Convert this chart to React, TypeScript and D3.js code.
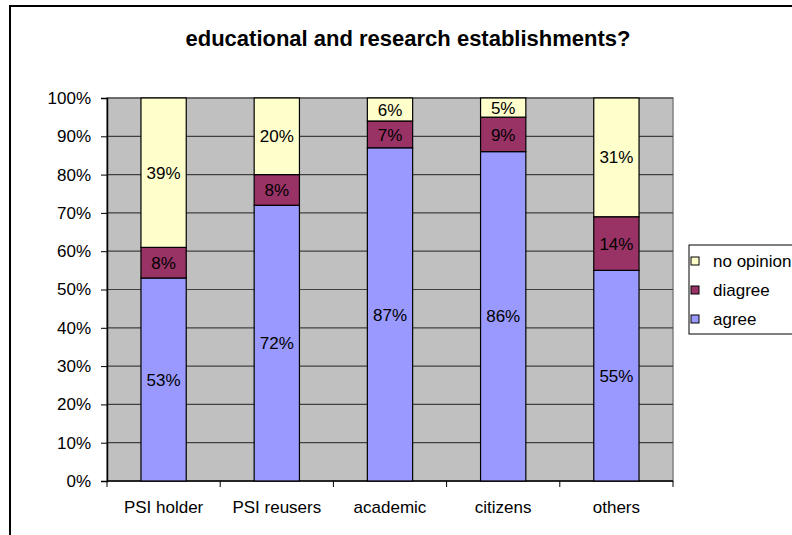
import { useEffect, useRef } from 'react';
import * as d3 from 'd3';

const categories = ['PSI holder', 'PSI reusers', 'academic', 'citizens', 'others'];
const agree = [53, 72, 87, 86, 55];
const disagree = [8, 8, 7, 9, 14];
const noOpinion = [39, 20, 6, 5, 31];
const seriesNames = ['agree', 'diagree', 'no opinion'];
const seriesColors = ['#9999FF', '#993366', '#FFFFCC'];
const yTicks = [0, 10, 20, 30, 40, 50, 60, 70, 80, 90, 100];

const FONT = 'Arial, "Liberation Sans", sans-serif';

export default function App() {
  const ref = useRef<SVGSVGElement>(null);

  useEffect(() => {
    if (!ref.current) return;
    const svg = d3.select(ref.current);
    svg.selectAll('*').remove();

    const W = 792, H = 535;
    const m = { left: 107, right: 673, top: 98, bottom: 481 };

    svg.append('rect').attr('width', W).attr('height', H).attr('fill', '#fff');
    // chart frame
    svg.append('rect').attr('x', 10).attr('y', 6).attr('width', 800).attr('height', 600)
      .attr('fill', 'none').attr('stroke', '#000').attr('stroke-width', 2);

    svg.append('text').attr('x', 408).attr('y', 46).attr('text-anchor', 'middle')
      .attr('font-family', FONT).attr('font-size', '22px').attr('font-weight', 'bold')
      .text('educational and research establishments?');

    const x = d3.scaleBand<string>().domain(categories).range([m.left, m.right])
      .paddingInner(0.6).paddingOuter(0.3);
    const y = d3.scaleLinear().domain([0, 100]).range([m.bottom, m.top]);

    // plot area
    svg.append('rect').attr('x', m.left).attr('y', m.top)
      .attr('width', m.right - m.left).attr('height', m.bottom - m.top)
      .attr('fill', '#C0C0C0').attr('stroke', '#808080').attr('stroke-width', 1.5);

    svg.append('g').selectAll('line').data(yTicks.slice(1)).enter().append('line')
      .attr('x1', m.left).attr('x2', m.right)
      .attr('y1', d => y(d)).attr('y2', d => y(d))
      .attr('stroke', '#404040').attr('stroke-width', 1.2);

    // y axis
    const yAxis = svg.append('g').attr('transform', `translate(${m.left},0)`)
      .call(d3.axisLeft(y).tickValues(yTicks).tickSize(6).tickPadding(10).tickFormat(d => `${d}%`));
    yAxis.select('.domain').attr('stroke', '#000').attr('stroke-width', 1.5);
    yAxis.selectAll('.tick line').attr('stroke', '#000');
    yAxis.selectAll('text').attr('font-family', FONT).attr('font-size', '17px').attr('fill', '#000');

    // x axis
    svg.append('line').attr('x1', m.left).attr('x2', m.right).attr('y1', m.bottom).attr('y2', m.bottom)
      .attr('stroke', '#000').attr('stroke-width', 1.5);
    const step = x.step();
    svg.append('g').selectAll('line').data(d3.range(categories.length + 1)).enter().append('line')
      .attr('x1', i => m.left + i * step).attr('x2', i => m.left + i * step)
      .attr('y1', m.bottom).attr('y2', m.bottom + 6).attr('stroke', '#000');
    svg.append('g').selectAll('text').data(categories).enter().append('text')
      .attr('x', d => (x(d) ?? 0) + x.bandwidth() / 2).attr('y', 513)
      .attr('text-anchor', 'middle').attr('font-family', FONT).attr('font-size', '17px')
      .text(d => d);

    // stacked bars
    const rows = categories.map((c, i) => ({ cat: c, agree: agree[i], diagree: disagree[i], 'no opinion': noOpinion[i] }));
    const stack = d3.stack<any>().keys(seriesNames)(rows);
    stack.forEach((layer, li) => {
      const g = svg.append('g');
      g.selectAll('rect').data(layer).enter().append('rect')
        .attr('x', d => x(d.data.cat) ?? 0).attr('width', x.bandwidth())
        .attr('y', d => y(d[1])).attr('height', d => y(d[0]) - y(d[1]))
        .attr('fill', seriesColors[li]).attr('stroke', '#000').attr('stroke-width', 1.2);
      g.selectAll('text').data(layer).enter().append('text')
        .attr('x', d => (x(d.data.cat) ?? 0) + x.bandwidth() / 2)
        .attr('y', d => (y(d[0]) + y(d[1])) / 2)
        .attr('dy', '0.36em').attr('text-anchor', 'middle')
        .attr('font-family', FONT).attr('font-size', '17px').attr('fill', '#000')
        .text(d => `${d[1] - d[0]}%`);
    });

    // legend
    const lg = svg.append('g');
    lg.append('rect').attr('x', 689).attr('y', 245).attr('width', 120).attr('height', 89)
      .attr('fill', '#fff').attr('stroke', '#000').attr('stroke-width', 1);
    const legendItems = [2, 1, 0];
    legendItems.forEach((si, k) => {
      const cy = 261 + k * 29;
      lg.append('rect').attr('x', 691).attr('y', cy - 4).attr('width', 8).attr('height', 8)
        .attr('fill', seriesColors[si]).attr('stroke', '#000').attr('stroke-width', 1);
      lg.append('text').attr('x', 713).attr('y', cy).attr('dy', '0.36em')
        .attr('font-family', FONT).attr('font-size', '17px').text(seriesNames[si]);
    });
  }, []);

  return (
    <div style={{ position: 'fixed', left: 0, top: 0 }}>
      <svg ref={ref} width={792} height={535} style={{ display: 'block' }} />
    </div>
  );
}
